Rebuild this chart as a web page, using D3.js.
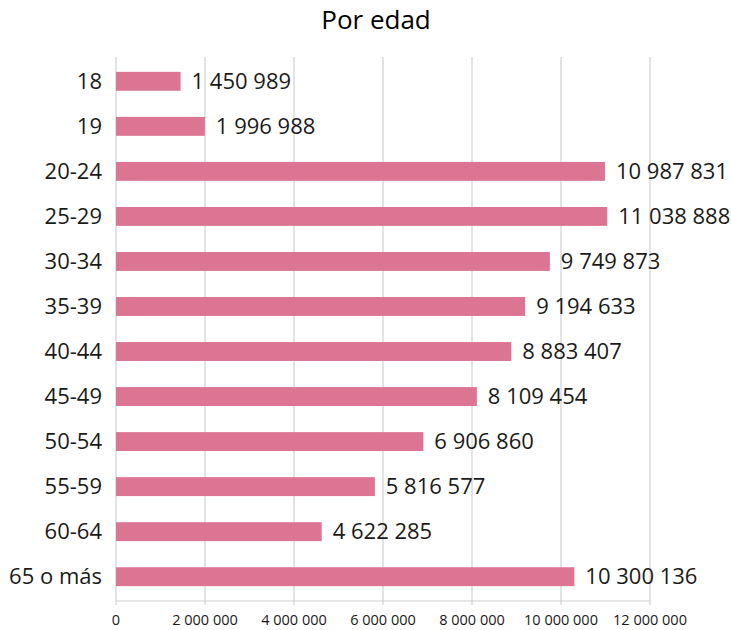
<!DOCTYPE html>
<meta charset="utf-8">
<head>
    <title>Por edad</title>
    <style>
        body { margin: 0; background: #fff; }
        text { font-family: "Open Sans", "Noto Sans", sans-serif; fill: #1a1a1a; }
        .title { font-size: 26px; text-anchor: middle; fill: #000; }
    </style>
</head>
<script src="https://d3js.org/d3.v7.min.js"></script>
<svg id="chart" width="731" height="630"></svg>
<script>
    // Data
    const categories = ["18", "19", "20-24", "25-29", "30-34", "35-39", "40-44", "45-49", "50-54", "55-59", "60-64", "65 o más"]
    const values = [1450989, 1996988, 10987831, 11038888, 9749873, 9194633, 8883407, 8109454, 6906860, 5816577, 4622285, 10300136]
    const ticks = [0, 2000000, 4000000, 6000000, 8000000, 10000000, 12000000]

    const svg = d3.select("#chart")
    const margin = { top: 57, left: 116, right: 81, bottom: 29 }
    const width = 731 - margin.left - margin.right,
        height = 630 - margin.top - margin.bottom

    // space as thousands separator
    const fmt = d => d3.format(",")(d).replace(/,/g, " ")

    svg.append("text")
        .attr("class", "title")
        .attr("x", 376)
        .attr("y", 29)
        .text("Por edad")

    const g = svg.append("g").attr("transform", `translate(${margin.left},${margin.top})`)

    const x = d3.scaleLinear().domain([0, 12000000]).range([0, width])
    const y = d3.scaleBand().domain(categories).range([0, height]).paddingInner(0.58).paddingOuter(0.33)

    // gridlines
    g.selectAll(".grid")
        .data(ticks)
        .join("line")
        .attr("x1", d => x(d))
        .attr("x2", d => x(d))
        .attr("y1", 0)
        .attr("y2", height + 4)
        .attr("stroke", "#d0d0d0")
        .attr("stroke-width", 1.2)

    g.append("line")
        .attr("x1", 0).attr("x2", width)
        .attr("y1", height).attr("y2", height)
        .attr("stroke", "#d0d0d0")
        .attr("stroke-width", 1.2)

    // tick labels
    g.selectAll(".tick-label")
        .data(ticks)
        .join("text")
        .attr("x", d => x(d))
        .attr("y", height + 24)
        .attr("text-anchor", "middle")
        .style("font-size", "14.5px")
        .text(d => fmt(d))

    // bars
    g.selectAll(".bar")
        .data(values)
        .join("rect")
        .attr("x", 0)
        .attr("y", (d, i) => y(categories[i]))
        .attr("width", d => x(d))
        .attr("height", y.bandwidth())
        .attr("fill", "#db7593")

    // value labels
    g.selectAll(".val")
        .data(values)
        .join("text")
        .attr("x", d => x(d) + 11)
        .attr("y", (d, i) => y(categories[i]) + y.bandwidth() / 2)
        .attr("dy", "0.35em")
        .style("font-size", "22px")
        .text(d => fmt(d))

    // category labels
    g.selectAll(".cat")
        .data(categories)
        .join("text")
        .attr("x", -14)
        .attr("y", d => y(d) + y.bandwidth() / 2)
        .attr("dy", "0.35em")
        .attr("text-anchor", "end")
        .style("font-size", "22px")
        .text(d => d)
</script>
